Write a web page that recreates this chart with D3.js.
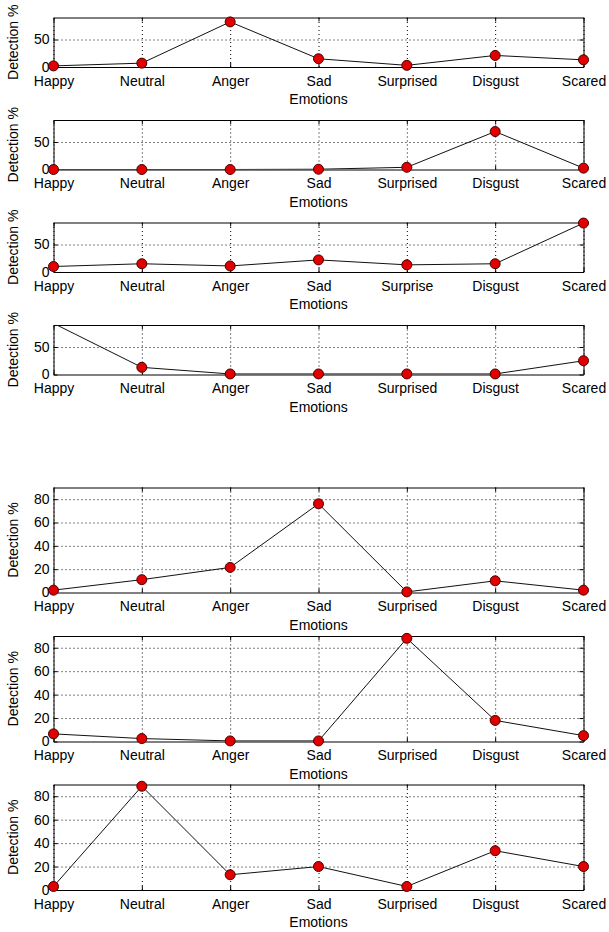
<!DOCTYPE html>
<html>
<head>
<meta charset="utf-8">
<script src="https://cdn.jsdelivr.net/npm/d3@7/dist/d3.min.js"></script>
<style>
  body { margin: 0; background: #fff; }
  text { font-family: "Liberation Sans", Arial, sans-serif; font-size: 14px; fill: #000; }
</style>
</head>
<body>
<div id="chart"></div>
<script>
// categories (third panel says "Surprise")
const emotions = ["Happy", "Neutral", "Anger", "Sad", "Surprised", "Disgust", "Scared"]
const emotionsAlt = ["Happy", "Neutral", "Anger", "Sad", "Surprise", "Disgust", "Scared"]

// detection % per panel, top to bottom
const detect1 = [2, 7, 82, 15, 3, 21, 13]
const detect2 = [0, 0, 0, 0.5, 4, 69, 2.5]
const detect3 = [10, 15, 11, 22, 13, 15, 89]
const detect4 = [93, 13, 1, 1, 1, 1, 25]
const detect5 = [2, 11, 21.5, 76, 0.5, 10, 2]
const detect6 = [6.5, 2.5, 0.5, 0.5, 88, 18, 5]
const detect7 = [3, 88.5, 13, 20, 3, 33.5, 20]

// y tick labels
const smallTicks = [0, 50]
const largeTicks = [0, 20, 40, 60, 80]
const yMax = 90

const width = 609
const height = 932
const left = 53.5
const right = 583.5

const svg = d3.select("#chart")
    .append("svg")
    .attr("width", width)
    .attr("height", height)

const defs = svg.append("defs")

function renderPanel(idx, labels, values, ticks, top, h) {
    let bottom = top + h

    let x = d3.scalePoint()
        .domain(d3.range(labels.length))
        .range([left, right])

    let y = d3.scaleLinear()
        .domain([0, yMax])
        .range([bottom, top])

    let g = svg.append("g")

    // dotted grid
    g.append("g")
        .attr("transform", "translate(0," + bottom + ")")
        .call(d3.axisBottom(x).tickSize(-h).tickFormat(""))
        .call(s => s.select(".domain").remove())
        .selectAll("line")
        .attr("stroke", "#000")
        .attr("stroke-dasharray", "1,3")

    g.append("g")
        .attr("transform", "translate(" + left + ",0)")
        .call(d3.axisLeft(y).tickValues(ticks.filter(t => t > 0)).tickSize(-(right - left)).tickFormat(""))
        .call(s => s.select(".domain").remove())
        .selectAll("line")
        .attr("stroke", "#000")
        .attr("stroke-dasharray", "1,3")

    // box with inward ticks
    let axes = [
        { a: d3.axisBottom(x).tickFormat(i => labels[i]).tickPadding(9), t: "translate(0," + bottom + ")" },
        { a: d3.axisTop(x).tickFormat(""), t: "translate(0," + top + ")" },
        { a: d3.axisLeft(y).tickValues(ticks).tickPadding(4), t: "translate(" + left + ",0)" },
        { a: d3.axisRight(y).tickValues(ticks).tickFormat(""), t: "translate(" + right + ",0)" }
    ]
    axes.forEach(function (ax) {
        let ag = g.append("g")
            .attr("transform", ax.t)
            .call(ax.a.tickSizeInner(-4).tickSizeOuter(0))
            .attr("font-size", null)
            .attr("font-family", null)
        ag.select(".domain").attr("stroke", "#000")
        ag.selectAll("line").attr("stroke", "#000")
    })

    // axis titles
    g.append("text")
        .attr("x", (left + right) / 2)
        .attr("y", bottom + 37)
        .style("text-anchor", "middle")
        .text("Emotions")

    g.append("text")
        .attr("transform", "translate(17.5," + (top + h / 2) + ") rotate(-90)")
        .style("text-anchor", "middle")
        .text("Detection %")

    // data line, clipped to the axes box
    defs.append("clipPath")
        .attr("id", "clip" + idx)
        .append("rect")
        .attr("x", left)
        .attr("y", top)
        .attr("width", right - left)
        .attr("height", h)

    let line = d3.line()
        .x((d, i) => x(i))
        .y(d => y(d))

    g.append("path")
        .datum(values)
        .attr("clip-path", "url(#clip" + idx + ")")
        .attr("d", line)
        .attr("fill", "none")
        .attr("stroke", "#111")
        .attr("stroke-width", 1)

    g.selectAll("circle")
        .data(values.map((v, i) => ({ v: v, i: i })).filter(d => d.v <= yMax))
        .enter()
        .append("circle")
        .attr("cx", d => x(d.i))
        .attr("cy", d => y(d.v))
        .attr("r", 5)
        .attr("fill", "#e00000")
        .attr("stroke", "#4a0000")
        .attr("stroke-width", 1)
}

renderPanel(1, emotions, detect1, smallTicks, 17.5, 49.5)
renderPanel(2, emotions, detect2, smallTicks, 120, 49.5)
renderPanel(3, emotionsAlt, detect3, smallTicks, 222.5, 49.5)
renderPanel(4, emotions, detect4, smallTicks, 325, 49.5)
renderPanel(5, emotions, detect5, largeTicks, 487.5, 105)
renderPanel(6, emotions, detect6, largeTicks, 636, 105.5)
renderPanel(7, emotions, detect7, largeTicks, 784.5, 105.5)
</script>
</body>
</html>
